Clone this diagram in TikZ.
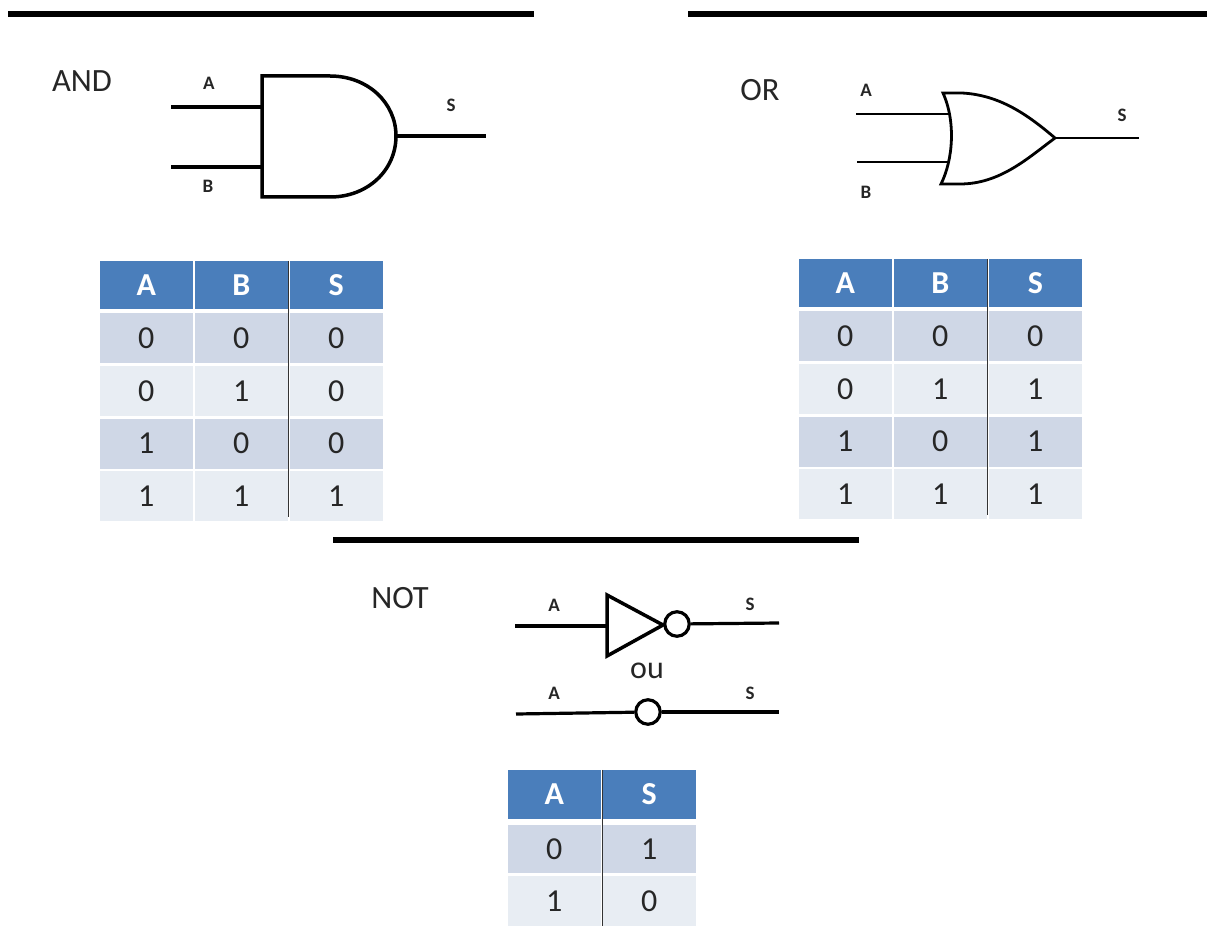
\documentclass[tikz,border=0pt]{standalone}
\usepackage{fontspec}
\setmainfont{Carlito}
\usetikzlibrary{calc,positioning}
\definecolor{headblue}{HTML}{4A7EBB}
\definecolor{rowdark}{HTML}{CFD7E6}
\definecolor{rowlight}{HTML}{E8EDF3}

\begin{document}
\begin{tikzpicture}[x=1pt,y=-1pt]
\tikzset{TITLE/.style={font=\fontsize{32.5}{33}\selectfont,text=black!85,inner sep=0pt}}
\tikzset{PIN/.style={font=\fontsize{19}{19}\selectfont\bfseries,text=black!85,inner sep=0pt}}
\tikzset{COL/.style={minimum width=92.6pt,inner sep=0pt,font=\fontsize{32}{32}\selectfont,text=black!85}}
\tikzset{HEAD/.style={COL,fill=headblue,minimum height=48pt,text=white,font=\fontsize{32}{32}\selectfont\bfseries}}
\tikzset{ODD/.style={COL,fill=rowdark,minimum height=50pt}}
\tikzset{EVEN/.style={COL,fill=rowlight,minimum height=50pt}}

\tikzset{RULE/.style={draw,line width=5.5pt}}
\tikzset{WIRE/.style={draw,line width=3.2pt}}
\tikzset{GATE/.style={draw,line width=3.5pt,line join=miter}}
\tikzset{BUBBLE/.style={draw,circle,line width=3.2pt,fill=white,minimum size=24.5pt,inner sep=0pt}}
\tikzset{DIVIDER/.style={draw,line width=1.3pt,black!80}}

\useasboundingbox (0,0) rectangle (1207,944);

% rules
\coordinate (rule and w) at (8,14);
\coordinate (rule and e) at (534,14);
\coordinate (rule or w) at (688,14);
\coordinate (rule or e) at (1207,14);
\coordinate (rule not w) at (333,540);
\coordinate (rule not e) at (859,540);
\path [RULE] (rule and w) -- (rule and e);
\path [RULE] (rule or w) -- (rule or e);
\path [RULE] (rule not w) -- (rule not e);

% AND
\node[TITLE] (and title) at (82,81) {AND};
\coordinate (and nw) at (262,76);
\coordinate (and sw) at (262,197);
\coordinate (and tip) at (396,136);
\coordinate (and a) at (262,107);
\coordinate (and b) at (262,167);
\coordinate (and a in) at (171,107);
\coordinate (and b in) at (171,167);
\coordinate (and s out) at (486,136);
\path [GATE] (and nw) -- (330,76) .. controls (368,76) and (396,103) .. (and tip)
  .. controls (396,170) and (368,197) .. (330,197) -- (and sw) -- cycle;
\path [WIRE] (and a in) -- (and a);
\path [WIRE] (and b in) -- (and b);
\path [WIRE] (and tip) -- (and s out);
\node[PIN] (and pin a) at (209,83) {A};
\node[PIN] (and pin b) at (208,186) {B};
\node[PIN] (and pin s) at (451,105) {S};

\node[HEAD] (and head a) at (146.3,285) {A};
\node[HEAD,right=2pt of and head a] (and head b) {B};
\node[HEAD,right=2pt of and head b] (and head s) {S};
\node[ODD,below=4pt of and head a] (and 1a) {0};
\node[ODD,right=2pt of and 1a] (and 1b) {0};
\node[ODD,right=2pt of and 1b] (and 1s) {0};
\node[EVEN,below=2.2pt of and 1a] (and 2a) {0};
\node[EVEN,right=2pt of and 2a] (and 2b) {1};
\node[EVEN,right=2pt of and 2b] (and 2s) {0};
\node[ODD,below=2.2pt of and 2a] (and 3a) {1};
\node[ODD,right=2pt of and 3a] (and 3b) {0};
\node[ODD,right=2pt of and 3b] (and 3s) {0};
\node[EVEN,below=2.2pt of and 3a] (and 4a) {1};
\node[EVEN,right=2pt of and 4a] (and 4b) {1};
\node[EVEN,right=2pt of and 4b] (and 4s) {1};
\path [DIVIDER] ($(and head b.north east)!.5!(and head s.north west)$) -- ($(and 4b.south east)!.5!(and 4s.south west)+(0,-4)$);

% OR
\node[TITLE] (or title) at (760,90) {OR};
\coordinate (or nw) at (943,93);
\coordinate (or sw) at (941,184);
\coordinate (or tip) at (1055,138);
\coordinate (or a) at (949,114);
\coordinate (or b) at (949,162);
\coordinate (or a in) at (856,114);
\coordinate (or b in) at (857,162);
\coordinate (or s out) at (1139,138);
\path [GATE,line width=2.8pt] (or nw) -- (962,93) .. controls (1000,95) and (1028,115) .. (or tip)
  .. controls (1028,158) and (1000,184) .. (960,184) -- (or sw)
  .. controls (953,160) and (956,122) .. (or nw) -- cycle;
\path [WIRE,line width=2.6pt] (or a in) -- (or a);
\path [WIRE,line width=2.6pt] (or b in) -- (or b);
\path [WIRE,line width=2.6pt] (or tip) -- (or s out);
\node[PIN] (or pin a) at (866,90) {A};
\node[PIN] (or pin b) at (866,192) {B};
\node[PIN] (or pin s) at (1122,115) {S};

\node[HEAD] (or head a) at (845.3,283) {A};
\node[HEAD,right=2pt of or head a] (or head b) {B};
\node[HEAD,right=2pt of or head b] (or head s) {S};
\node[ODD,below=4pt of or head a] (or 1a) {0};
\node[ODD,right=2pt of or 1a] (or 1b) {0};
\node[ODD,right=2pt of or 1b] (or 1s) {0};
\node[EVEN,below=2.2pt of or 1a] (or 2a) {0};
\node[EVEN,right=2pt of or 2a] (or 2b) {1};
\node[EVEN,right=2pt of or 2b] (or 2s) {1};
\node[ODD,below=2.2pt of or 2a] (or 3a) {1};
\node[ODD,right=2pt of or 3a] (or 3b) {0};
\node[ODD,right=2pt of or 3b] (or 3s) {1};
\node[EVEN,below=2.2pt of or 3a] (or 4a) {1};
\node[EVEN,right=2pt of or 4a] (or 4b) {1};
\node[EVEN,right=2pt of or 4b] (or 4s) {1};
\path [DIVIDER] ($(or head b.north east)!.5!(or head s.north west)$) -- ($(or 4b.south east)!.5!(or 4s.south west)+(0,-4)$);

% NOT
\node[TITLE] (not title) at (400,598) {NOT};
\coordinate (not nw) at (607,595);
\coordinate (not sw) at (607,656);
\coordinate (not tip) at (663,625);
\coordinate (not a) at (607,626);
\coordinate (not a in) at (515,626);
\coordinate (not s out) at (779,623);
\path [GATE] (not nw) -- (not tip) -- (not sw) -- cycle;
\path [WIRE] (not a in) -- (not a);
\node[BUBBLE] (not bubble) at (677,624) {};
\path [WIRE] (not bubble) -- (not s out);
\node[PIN] (not pin a) at (554,605) {A};
\node[PIN] (not pin s) at (750,604) {S};

\node[PIN,font=\fontsize{32}{32}\selectfont] (not ou) at (647,671) {ou};

\coordinate (inv a in) at (516,714);
\coordinate (inv s out) at (779,712);
\node[BUBBLE] (inv bubble) at (648,712) {};
\path [WIRE] (inv a in) -- (inv bubble);
\path [WIRE] (inv bubble) -- (inv s out);
\node[PIN] (inv pin a) at (554,693) {A};
\node[PIN] (inv pin s) at (750,693) {S};

\node[HEAD,minimum height=49pt] (not head a) at (554.3,794.5) {A};
\node[HEAD,minimum height=49pt,right=2pt of not head a] (not head s) {S};
\node[ODD,minimum height=48.5pt,below=5.5pt of not head a] (not 1a) {0};
\node[ODD,minimum height=48.5pt,right=2pt of not 1a] (not 1s) {1};
\node[EVEN,below=2pt of not 1a] (not 2a) {1};
\node[EVEN,right=2pt of not 2a] (not 2s) {0};
\path [DIVIDER] ($(not head a.north east)!.5!(not head s.north west)+(1,0)$) -- ($(not 2a.south east)!.5!(not 2s.south west)+(1,0)$);

\end{tikzpicture}
\end{document}
